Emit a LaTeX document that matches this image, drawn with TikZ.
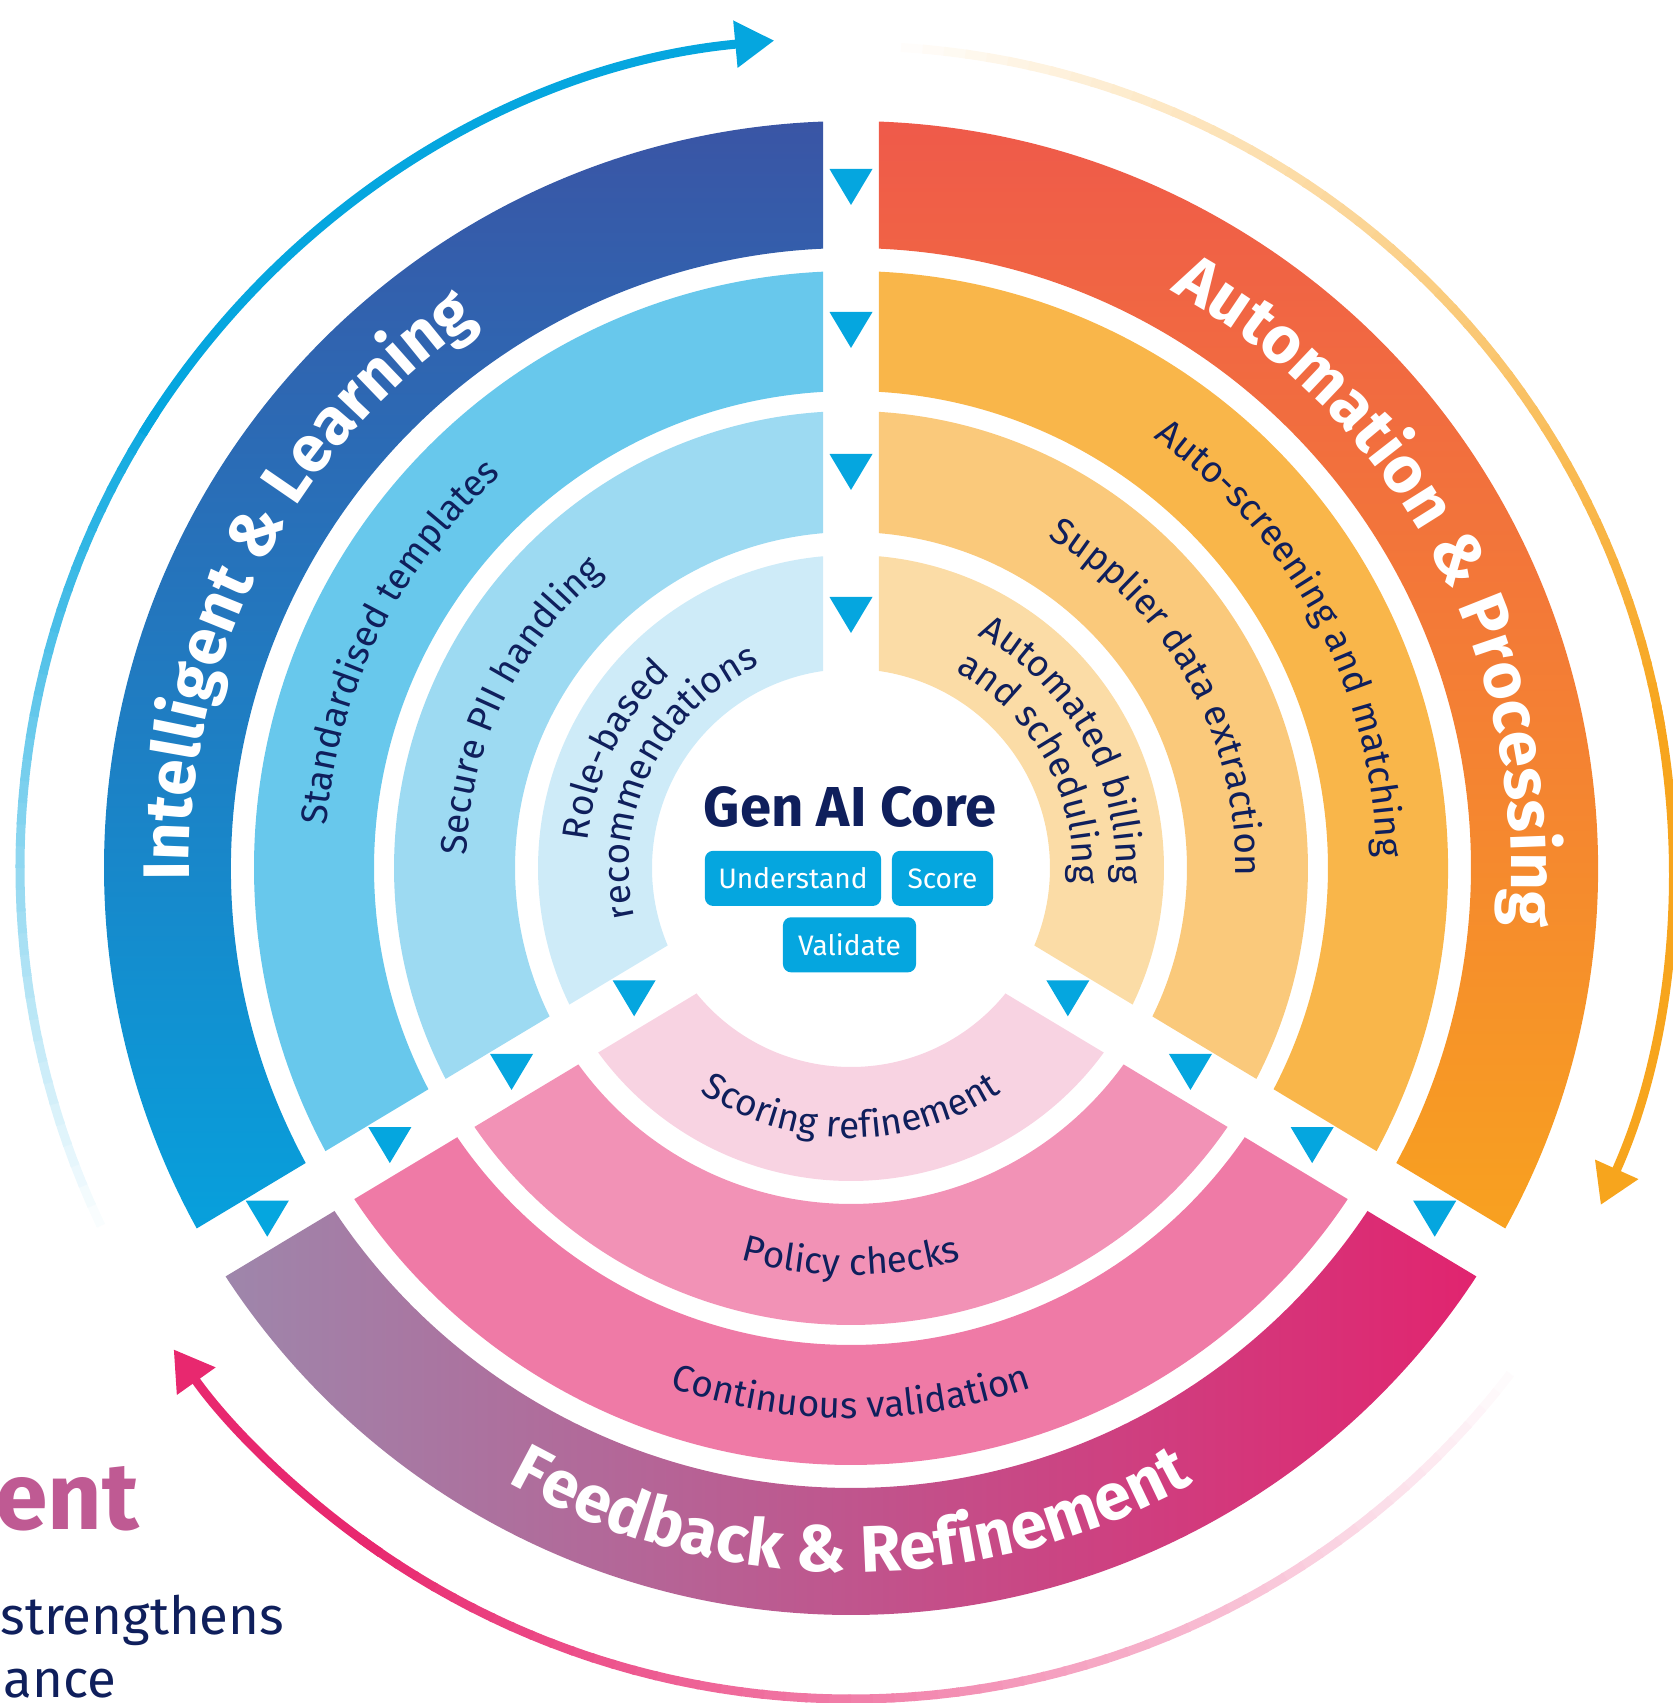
\documentclass[tikz,border=0pt]{standalone}
\usepackage{fontspec}
\setmainfont{Fira Sans}
\usetikzlibrary{decorations.text,arrows.meta}

\definecolor{navytxt}{HTML}{0F1F5C}
\definecolor{corecyan}{HTML}{05A6DF}
\definecolor{leftA}{HTML}{3A55A5}
\definecolor{leftB}{HTML}{07A0DC}
\definecolor{leftii}{HTML}{68C8EC}
\definecolor{leftiii}{HTML}{9DDAF2}
\definecolor{leftiv}{HTML}{CEEBF8}
\definecolor{rightA}{HTML}{EF5A4A}
\definecolor{rightB}{HTML}{F8A120}
\definecolor{rightii}{HTML}{F9B64A}
\definecolor{rightiii}{HTML}{FAC97B}
\definecolor{rightiv}{HTML}{FBDCA6}
\definecolor{botA}{HTML}{9E86AB}
\definecolor{botB}{HTML}{E1246F}
\definecolor{botii}{HTML}{EF7AA6}
\definecolor{botiii}{HTML}{F292B6}
\definecolor{botiv}{HTML}{F8D3E2}
\definecolor{arrowblue}{HTML}{05A6DF}
\definecolor{arroworange}{HTML}{F7A51D}
\definecolor{arrowpink}{HTML}{E8286F}
\definecolor{headline}{HTML}{BF5A93}

\newcommand{\gapw}{28}
\newcommand{\ringpart}[4]{({#1+asin(\gapw/#4)}:#4) arc[start angle={#1+asin(\gapw/#4)}, end angle={#2-asin(\gapw/#4)}, radius=#4] -- ({#2-asin(\gapw/#3)}:#3) arc[start angle={#2-asin(\gapw/#3)}, end angle={#1+asin(\gapw/#3)}, radius=#3] -- cycle}
\newcommand{\ringfont}{\fontsize{10.5}{12}\selectfont}
\newcommand{\bandfont}{\bfseries\fontsize{18.7}{20}\selectfont}

\begin{document}
\begin{tikzpicture}[x=0.01cm, y=0.01cm,
  tri/.style={fill=corecyan},
  lbl/.style={decorate, decoration={text along path, text align=center, text color=navytxt}},
  band/.style={decorate, decoration={text along path, text align=center, text color=white}},
  btn/.style={fill=corecyan, text=white, rounded corners=2.3pt, minimum height=0.55cm, inner sep=0pt, font=\fontsize{8}{9}\selectfont},
  arcline/.style={line width=2.56pt},
  arrowend/.style={-{Triangle[length=11.1pt, width=12.8pt]}}]
\useasboundingbox (-851,-835) rectangle (822,868);
\clip (-851,-835) rectangle (822,868);

\shade[top color=rightA, bottom color=rightB] \ringpart{-31}{90}{620}{747};
\fill[rightii] \ringpart{-31}{90}{477}{597};
\fill[rightiii] \ringpart{-31}{90}{336}{457};
\fill[rightiv] \ringpart{-31}{90}{199}{313};
\shade[top color=leftA, bottom color=leftB] \ringpart{90}{211}{620}{747};
\fill[leftii] \ringpart{90}{211}{477}{597};
\fill[leftiii] \ringpart{90}{211}{336}{457};
\fill[leftiv] \ringpart{90}{211}{199}{313};
\shade[left color=botA, right color=botB] \ringpart{211}{329}{620}{747};
\fill[botii] \ringpart{211}{329}{477}{597};
\fill[botiii] \ringpart{211}{329}{336}{457};
\fill[botiv] \ringpart{211}{329}{199}{313};

\foreach \a in {90,211,329}
  \foreach \r in {253,396,538,681}
    \fill[tri] ([shift={(-21.5,18)}]\a:\r) -- ++(43,0) -- ++(-21.5,-36) -- cycle;

\path[band, decoration={text={|\bandfont|Intelligent {\&} Learning}}] (222.7:662) arc[start angle=222.7, end angle=82.7, radius=662];
\path[lbl, decoration={text={|\ringfont|Standardised templates}}] (223.5:526) arc[start angle=223.5, end angle=83.5, radius=526];
\path[lbl, decoration={text={|\ringfont|Secure PII handling}}] (224:385) arc[start angle=224, end angle=84, radius=385];
\path[lbl, decoration={text={|\ringfont|Role-based}}] (223.5:265) arc[start angle=223.5, end angle=83.5, radius=265];
\path[lbl, decoration={text={|\ringfont|recommendations}}] (223.5:222) arc[start angle=223.5, end angle=83.5, radius=222];

\path[band, decoration={text={|\bandfont|Automation {\&} Processing}}] (98:660) arc[start angle=98, end angle=-42, radius=660];
\path[lbl, decoration={text={|\ringfont|Auto-screening and matching}}] (98:526) arc[start angle=98, end angle=-42, radius=526];
\path[lbl, decoration={text={|\ringfont|Supplier data extraction}}] (99:385) arc[start angle=99, end angle=-41, radius=385];
\path[lbl, decoration={text={|\ringfont|Automated billing}}] (99:265) arc[start angle=99, end angle=-41, radius=265];
\path[lbl, decoration={text={|\ringfont|and scheduling}}] (99:222) arc[start angle=99, end angle=-41, radius=222];

\path[band, decoration={text={|\bandfont|Feedback {\&} Refinement}}] (200:704) arc[start angle=200, end angle=340, radius=704];
\path[lbl, decoration={text={|\ringfont|Continuous validation}}] (200:550) arc[start angle=200, end angle=340, radius=550];
\path[lbl, decoration={text={|\ringfont|Policy checks}}] (200:407) arc[start angle=200, end angle=340, radius=407];
\path[lbl, decoration={text={|\ringfont|Scoring refinement}}] (200:270) arc[start angle=200, end angle=340, radius=270];

\node[font=\bfseries\fontsize{16}{18}\selectfont, text=navytxt, anchor=base, inner sep=0pt] (core) at (-1,41) {Gen AI Core};
\node[btn, minimum width=1.76cm] (understand) at (-58,-10.4) {Understand};
\node[btn, minimum width=1.01cm] (score) at (91.5,-10.4) {Score};
\node[btn, minimum width=1.33cm] (validate) at (-1.5,-76.8) {Validate};

\foreach \i in {0,...,39} {
  \pgfmathsetmacro\p{2.5*\i}
  \draw[arcline, arrowblue!\p!white] ({207-1.5*\i}:831) arc[start angle={207-1.5*\i}, end angle={205.3-1.5*\i}, radius=831];
}
\draw[arcline, arrowend, arrowblue] (148.5:831) arc[start angle=148.5, end angle=95.3, radius=831];

\foreach \i in {0,...,51} {
  \pgfmathsetmacro\p{100*\i/51}
  \draw[arcline, arroworange!\p!white] ({88-1.5*\i}:822) arc[start angle={88-1.5*\i}, end angle={86.3-1.5*\i}, radius=822];
}
\draw[arcline, arrowend, arroworange] (11.5:822) arc[start angle=11.5, end angle=-24.2, radius=822];

\foreach \i in {0,...,59} {
  \pgfmathsetmacro\p{100*\i/59}
  \draw[arcline, arrowpink!\p!white] ({-36-1.5*\i}:831) arc[start angle={-36-1.5*\i}, end angle={-37.7-1.5*\i}, radius=831];
}
\draw[arcline, arrowend, arrowpink] (-124.5:831) arc[start angle=-124.5, end angle=-144.6, radius=831];

\node[anchor=base east, inner sep=0pt, text=headline, font=\bfseries\fontsize{27}{30}\selectfont] (ent) at (-711,-661) {ent};
\node[anchor=base east, inner sep=0pt, text=navytxt, font=\fontsize{15}{17}\selectfont] (strength) at (-566,-766) {strengthens};
\node[anchor=base east, inner sep=0pt, text=navytxt, font=\fontsize{15}{17}\selectfont] (nance) at (-734,-829) {nance};
\end{tikzpicture}
\end{document}
